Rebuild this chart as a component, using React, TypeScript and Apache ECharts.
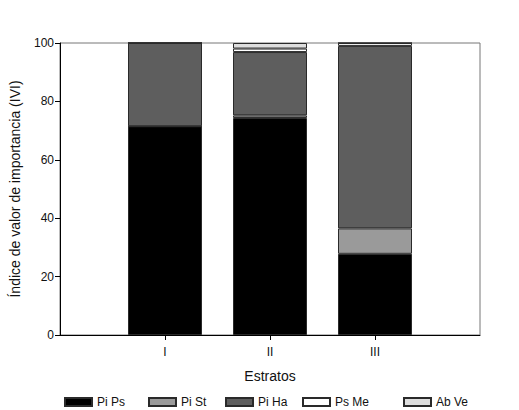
import { useEffect, useRef } from "react";
import * as echarts from "echarts";

const categories = ["I", "II", "III"];
const seriesNames = ["Pi Ps", "Pi St", "Pi Ha", "Ps Me", "Ab Ve"];
const piPs = [71.5, 74.3, 27.8];
const piSt = [0, 0.9, 8.7];
const piHa = [28.5, 21.7, 62.5];
const psMe = [0, 1.2, 1.0];
const abVe = [0, 1.9, 0];
const yTicks = [0, 20, 40, 60, 80, 100];

const colors = ["#000000", "#9a9a9a", "#5e5e5e", "#ffffff", "#dedede"];
const legendLeft = [64, 148, 225, 302, 403];

function App() {
  const chartRef = useRef(null);

  useEffect(() => {
    const chart = echarts.init(chartRef.current, null, { renderer: "svg" });
    const values = [piPs, piSt, piHa, psMe, abVe];
    const axisData = ["", ...categories, ""];
    const font = "Liberation Sans, Arial, sans-serif";

    const option = {
      animation: false,
      textStyle: { fontFamily: font },
      grid: {
        left: 58,
        right: 39,
        top: 43,
        bottom: 75,
        show: true,
        borderColor: "#777",
        borderWidth: 1,
      },
      xAxis: {
        type: "category",
        data: axisData,
        boundaryGap: false,
        name: "Estratos",
        nameLocation: "middle",
        nameGap: 34,
        nameTextStyle: { fontSize: 14, color: "#111", fontFamily: font },
        axisLine: { lineStyle: { color: "#000", width: 1 } },
        axisTick: {
          length: 5,
          interval: (index: number) => index >= 1 && index <= categories.length,
          lineStyle: { color: "#000" },
        },
        axisLabel: { fontSize: 12, color: "#111", margin: 11, interval: 0 },
        splitLine: { show: false },
      },
      yAxis: {
        type: "value",
        min: yTicks[0],
        max: yTicks[yTicks.length - 1],
        interval: 20,
        name: "Índice de valor de importancia (IVI)",
        nameLocation: "middle",
        nameGap: 38,
        nameTextStyle: { fontSize: 14, color: "#111", fontFamily: font },
        axisLine: { show: true, lineStyle: { color: "#000", width: 1 } },
        axisTick: { show: true, length: 5, lineStyle: { color: "#000" } },
        axisLabel: { fontSize: 12, color: "#111", margin: 6 },
        splitLine: { show: false },
      },
      legend: seriesNames.map((name, i) => ({
        data: [name],
        left: legendLeft[i],
        top: 396,
        padding: 0,
        icon: "rect",
        itemWidth: 27,
        itemHeight: 8,
        itemGap: 6,
        textStyle: { fontSize: 12, color: "#111", fontFamily: font },
      })),
      series: seriesNames.map((name, i) => ({
        name,
        type: "bar",
        stack: "total",
        barWidth: 74,
        data: ["-", ...values[i], "-"],
        itemStyle: {
          color: colors[i],
          borderColor: "#2a2a2a",
          borderWidth: 1,
        },
      })),
    };

    chart.setOption(option);

    return () => {
      chart.dispose();
    };
  }, []);

  return (
    <div
      ref={chartRef}
      style={{ position: "absolute", left: 0, top: 0, width: 519, height: 410 }}
    />
  );
}

export default App;
